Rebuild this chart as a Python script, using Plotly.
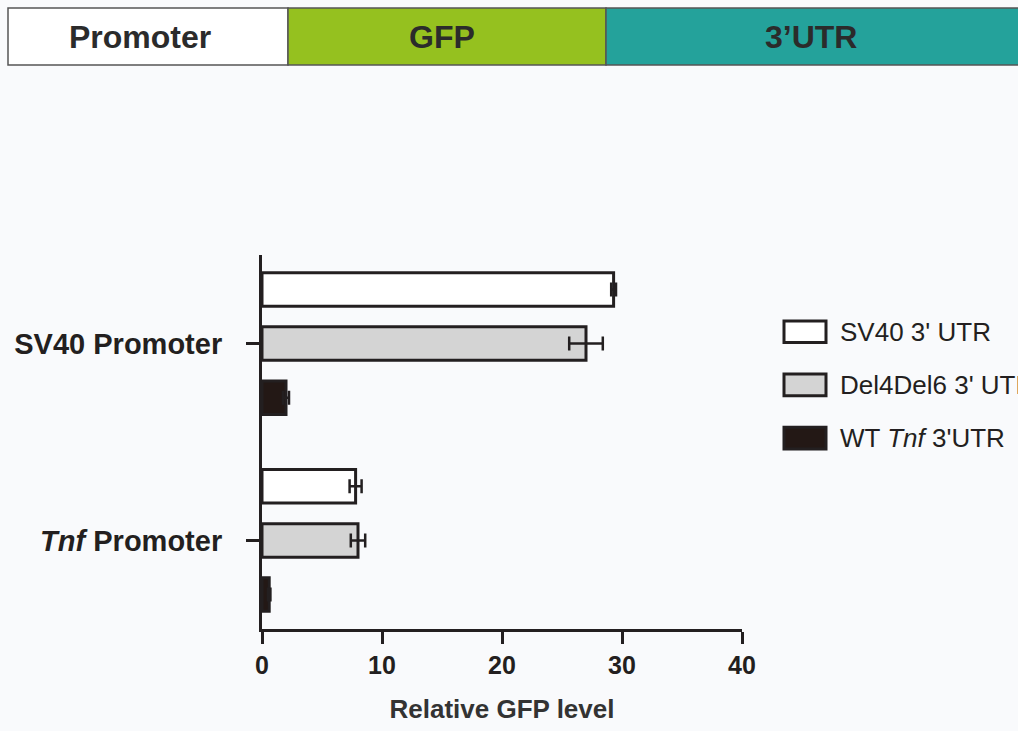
import plotly.graph_objects as go

# ---- data ----
promoters = ["SV40 Promoter", "<i>Tnf</i> Promoter"]
series_names = ["SV40 3' UTR", "Del4Del6 3' UTR", "WT <i>Tnf</i> 3'UTR"]
sv40_utr = [29.3, 7.8]
sv40_utr_err = [0.2, 0.5]
del4del6_utr = [27.0, 8.0]
del4del6_utr_err = [1.4, 0.6]
wt_tnf_utr = [2.0, 0.6]
wt_tnf_utr_err = [0.25, 0.1]
x_ticks = [0, 10, 20, 30, 40]
banner_labels = ["Promoter", "GFP", "3\u2019UTR"]

values = [sv40_utr, del4del6_utr, wt_tnf_utr]
errors = [sv40_utr_err, del4del6_utr_err, wt_tnf_utr_err]
fills = ["#FFFFFF", "#D4D4D4", "#231815"]
INK = "#231f20"
BG = "#F9FAFC"

W, H = 1018, 731
L, R, T, B = 262, 276, 255, 96
pw, ph = W - L - R, H - T - B


def px(x):
    return (x - L) / pw


def py(y):
    return (H - B - y) / ph


fig = go.Figure()
for name, v, e, c in zip(series_names, values, errors, fills):
    fig.add_trace(go.Bar(
        y=promoters, x=v, name=name, orientation="h",
        marker=dict(color=c, line=dict(color=INK, width=3)),
        error_x=dict(type="data", array=e, visible=True, color=INK,
                     thickness=2.5, width=7),
        showlegend=False,
    ))

shapes = []
annotations = []

# custom legend (large boxes like the reference)
leg_y = [333, 387, 441]
for name, c, yy in zip(series_names, fills, leg_y):
    shapes.append(dict(type="rect", xref="paper", yref="paper",
                       x0=px(784), x1=px(826), y0=py(yy - 11), y1=py(yy + 11),
                       fillcolor=c, line=dict(color=INK, width=3)))
    annotations.append(dict(xref="paper", yref="paper", x=px(838), y=py(yy),
                            text=name, showarrow=False, xanchor="left",
                            yanchor="middle",
                            font=dict(family="Liberation Sans, Arial", size=26,
                                      color=INK)))

# top banner
segs = [(8, 288, "#FFFFFF", 140), (288, 606, "#95C11F", 442),
        (606, 1020, "#24A29B", 811)]
for (x0, x1, c, xc), lab in zip(segs, banner_labels):
    shapes.append(dict(type="rect", xref="paper", yref="paper",
                       x0=px(x0), x1=px(x1), y0=py(62), y1=py(4),
                       fillcolor=c, line=dict(color="#555555", width=1.5)))
    annotations.append(dict(xref="paper", yref="paper", x=px(xc),
                            y=py(34), text="<b>%s</b>" % lab, showarrow=False,
                            xanchor="center", yanchor="middle",
                            font=dict(family="Liberation Sans, Arial", size=32,
                                      color="#2b2b2b")))

fig.update_layout(
    width=W, height=H,
    margin=dict(l=L, r=R, t=T, b=B),
    paper_bgcolor=BG, plot_bgcolor=BG,
    barmode="group", bargap=0.175, bargroupgap=0.38,
    shapes=shapes, annotations=annotations,
    font=dict(family="Liberation Sans, Arial", color=INK),
)
fig.update_xaxes(
    range=[0, 40], tickvals=x_ticks, ticktext=[str(t) for t in x_ticks],
    showgrid=False, zeroline=False, showline=True, linecolor=INK, linewidth=3,
    ticks="outside", ticklen=12, tickwidth=3, tickcolor=INK,
    tickfont=dict(size=25, color=INK, weight="bold"),
    title=dict(text="<b>Relative GFP level</b>", standoff=22,
               font=dict(size=26, color="#333333")),
)
fig.update_yaxes(
    type="category", categoryorder="array", categoryarray=promoters,
    range=[1.45, -0.45],
    showgrid=False, zeroline=False, showline=True, linecolor=INK, linewidth=3,
    ticks="outside", ticklen=13, tickwidth=3, tickcolor=INK,
    ticklabelstandoff=18,
    tickfont=dict(size=29, color=INK, weight="bold"),
)

fig.write_html(
    "out.html",
    config={"displayModeBar": False},
    post_script="document.body.style.margin='0px';document.body.style.overflow='hidden';",
)
